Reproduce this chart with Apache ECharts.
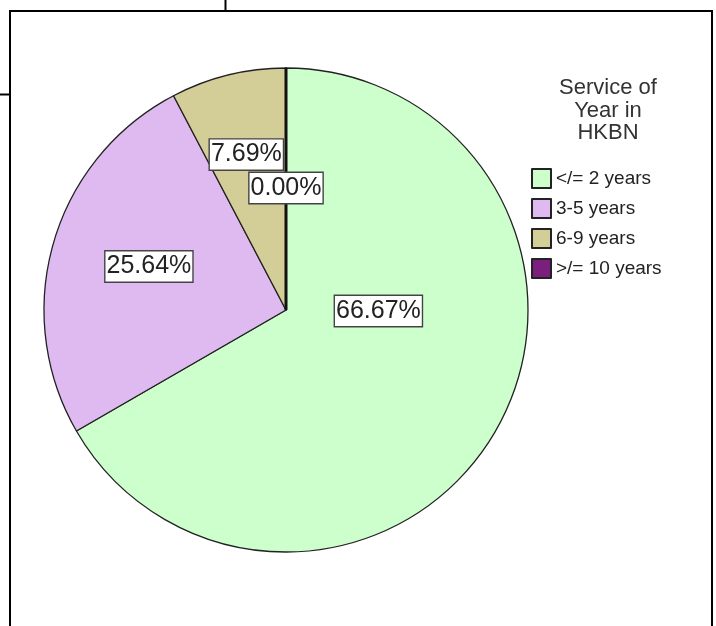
<!DOCTYPE html>
<html>
<head>
<meta charset="utf-8">
<script src="https://cdn.jsdelivr.net/npm/echarts@6/dist/echarts.min.js"></script>
<style>
  html, body { margin: 0; padding: 0; background: #fff; }
  #chart { width: 716px; height: 626px; }
</style>
</head>
<body>
<div id="chart"></div>
<script>
// Years of service at HKBN (respondent counts)
const categories = ['</= 2 years', '3-5 years', '6-9 years', '>/= 10 years'];
const counts = [26, 10, 3, 0];
const sliceColors = ['#ccffcc', '#dfbaf0', '#d3cd97', '#7b1f7e'];
const legendTitle = 'Service of\nYear in\nHKBN';

// Nudges that move each percentage box off the default inside anchor
const labelShift = [[-15, -61], [-18, -9], [-10, -35], [0, 2]];

const chart = echarts.init(document.getElementById('chart'), null, { renderer: 'canvas' });

chart.setOption({
  animation: false,
  backgroundColor: '#ffffff',
  title: {
    text: legendTitle,
    left: 603,
    top: 72,
    textAlign: 'center',
    textStyle: {
      fontFamily: 'Liberation Sans, Arial, sans-serif',
      fontSize: 22,
      fontWeight: 'normal',
      lineHeight: 22.5,
      color: '#333'
    }
  },
  legend: {
    orient: 'vertical',
    left: 526,
    top: 163,
    padding: 5,
    itemWidth: 19,
    itemHeight: 19,
    itemGap: 9,
    icon: 'rect',
    selectedMode: false,
    data: categories,
    textStyle: {
      fontFamily: 'Liberation Sans, Arial, sans-serif',
      fontSize: 19,
      color: '#222',
      padding: [0, 0, 0, 0]
    }
  },
  graphic: [
    // outer frame
    { type: 'rect', shape: { x: 10, y: 11, width: 702, height: 700 },
      style: { fill: 'none', stroke: '#000', lineWidth: 2 }, silent: true },
    { type: 'line', shape: { x1: 0, y1: 94.5, x2: 10, y2: 94.5 },
      style: { stroke: '#000', lineWidth: 2 }, silent: true },
    { type: 'line', shape: { x1: 225.5, y1: 0, x2: 225.5, y2: 11 },
      style: { stroke: '#000', lineWidth: 2 }, silent: true }
  ],
  series: [{
    type: 'pie',
    center: [286, 310],
    radius: [0, 242],
    startAngle: 90,
    clockwise: true,
    avoidLabelOverlap: false,
    minShowLabelAngle: 0,
    data: categories.map((name, i) => ({
      name: name,
      value: counts[i],
      itemStyle: { color: sliceColors[i] }
    })),
    itemStyle: {
      borderColor: '#222',
      borderWidth: 1.3
    },
    label: {
      show: true,
      position: 'inside',
      formatter: p => p.percent.toFixed(2) + '%',
      fontFamily: 'Liberation Sans, Arial, sans-serif',
      fontSize: 25,
      lineHeight: 28,
      color: '#222',
      backgroundColor: '#ffffff',
      borderColor: '#444',
      borderWidth: 1.4,
      padding: [1, 1, 1, 1]
    },
    labelLine: { show: false },
    labelLayout: p => ({
      dx: labelShift[p.dataIndex][0],
      dy: labelShift[p.dataIndex][1],
      hideOverlap: false
    }),
    emphasis: { disabled: true }
  }]
});

// Zero-value slices collapse to a single edge; stroke that edge from the
// pie's own computed layout, above the sectors but beneath the percentage boxes.
const pieData = chart.getModel().getSeriesByIndex(0).getData();
const zr = chart.getZr();
counts.forEach((v, i) => {
  if (v !== 0) return;
  const L = pieData.getItemLayout(i);
  const sector = pieData.getItemGraphicEl(i);
  const text = sector && sector.getTextContent ? sector.getTextContent() : null;
  let z = 2, z2 = 0.5;
  if (text) {
    z = text.z;
    z2 = text.z2 - 0.1;
  }
  zr.add(new echarts.graphic.Line({
    silent: true,
    zlevel: sector ? sector.zlevel : 0,
    z: z,
    z2: z2,
    shape: {
      x1: L.cx, y1: L.cy,
      x2: L.cx + L.r * Math.cos(L.startAngle),
      y2: L.cy + L.r * Math.sin(L.startAngle)
    },
    style: { stroke: '#111', lineWidth: 3 }
  }));
});
</script>
</body>
</html>
